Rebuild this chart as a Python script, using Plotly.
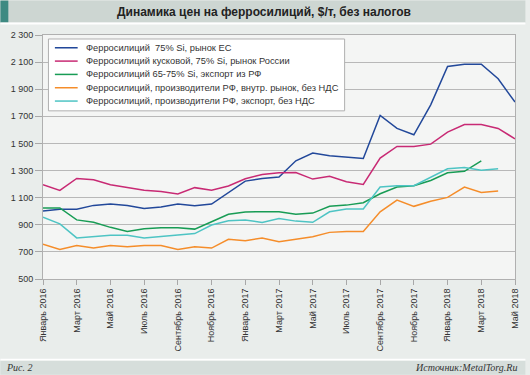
import plotly.graph_objects as go

month_names = ["Январь", "Февраль", "Март", "Апрель", "Май", "Июнь",
               "Июль", "Август", "Сентябрь", "Октябрь", "Ноябрь", "Декабрь"]
months = [f"{month_names[i % 12]} {2016 + i // 12}" for i in range(29)]
tick_labels = months[::2]

series_names = [
    "Ферросилиций  75% Si, рынок ЕС",
    "Ферросилиций кусковой, 75% Si, рынок России",
    "Ферросилиций 65-75% Si, экспорт из РФ",
    "Ферросилиций, производители РФ, внутр. рынок, без НДС",
    "Ферросилиций, производители РФ, экспорт, без НДС",
]

eu_75 = [1002, 1014, 1014, 1043, 1053, 1043, 1021, 1031, 1053, 1041, 1053, 1135, 1222, 1242,
         1252, 1372, 1429, 1409, 1399, 1389, 1706, 1611, 1564, 1785, 2068, 2085, 2085, 1977, 1805]
ru_lump_75 = [1196, 1154, 1242, 1232, 1196, 1174, 1154, 1145, 1128, 1174, 1154, 1186, 1239, 1271,
              1283, 1286, 1237, 1257, 1217, 1198, 1392, 1478, 1478, 1495, 1584, 1640, 1640, 1611, 1534]
export_65_75 = [1024, 1024, 936, 919, 881, 851, 871, 878, 878, 868, 922, 978, 995, 995,
                996, 977, 986, 1036, 1045, 1063, 1129, 1178, 1188, 1227, 1284, 1294, 1372, None, None]
prod_domestic = [757, 718, 747, 728, 747, 738, 747, 747, 718, 738, 728, 793, 783, 803,
                 775, 792, 812, 844, 851, 851, 996, 1082, 1036, 1073, 1102, 1178, 1139, 1149, None]
prod_export = [956, 907, 803, 815, 822, 822, 803, 813, 825, 835, 898, 929, 936, 917,
               947, 927, 918, 996, 1016, 1016, 1178, 1188, 1188, 1252, 1313, 1323, 1303, 1313, None]

series_values = [eu_75, ru_lump_75, export_65_75, prod_domestic, prod_export]
colors = ["#22489a", "#c82a74", "#189c55", "#f58d2a", "#4ec4c4"]

fig = go.Figure()
for name, vals, col in zip(series_names, series_values, colors):
    fig.add_trace(go.Scatter(x=months, y=vals, name=name, mode="lines",
                             line=dict(color=col, width=1.5), showlegend=False))

# pixel helpers for decorations (plot area: x 43..519.5, y 34.5..279)
L, R, T, B = 43, 519.5, 34.5, 279
def px(x):
    return (x - L) / (R - L)
def py(y):
    return (B - y) / (B - T)

shapes = [
    dict(type="rect", xref="paper", yref="paper", x0=px(0), x1=px(530), y0=py(22), y1=py(0),
         fillcolor="#cdd6d2", line=dict(width=0), layer="below"),
    dict(type="rect", xref="paper", yref="paper", x0=px(0), x1=px(8), y0=py(22), y1=py(0),
         fillcolor="#3e8a82", line=dict(width=0), layer="below"),
    dict(type="rect", xref="paper", yref="paper", x0=px(0), x1=px(530), y0=py(24), y1=py(22),
         fillcolor="#ffffff", line=dict(width=0), layer="below"),
    dict(type="rect", xref="paper", yref="paper", x0=px(0), x1=px(530), y0=py(361), y1=py(359),
         fillcolor="#ffffff", line=dict(width=0), layer="below"),
    dict(type="rect", xref="paper", yref="paper", x0=px(0), x1=px(530), y0=py(375), y1=py(361),
         fillcolor="#d6dedb", line=dict(width=0), layer="below"),
    # legend box
    dict(type="rect", xref="paper", yref="paper", x0=px(48.5), x1=px(347.5), y0=py(110.5), y1=py(38.5),
         fillcolor="#ffffff", line=dict(color="#b0b0b0", width=1), layer="above"),
]

annotations = [
    dict(text="<b>Динамика цен на ферросилиций, $/т, без налогов</b>", xref="paper", yref="paper",
         x=px(266), y=py(11.5), xanchor="center", yanchor="middle", showarrow=False,
         font=dict(family="Liberation Sans, Arial", size=12, color="#222222")),
    dict(text="<i>Рис. 2</i>", xref="paper", yref="paper", x=px(4), y=py(367.5),
         xanchor="left", yanchor="middle", showarrow=False,
         font=dict(family="Liberation Serif, Times New Roman", size=10, color="#333333")),
    dict(text="<i>Источник:MetalTorg.Ru</i>", xref="paper", yref="paper", x=px(524), y=py(367.5),
         xanchor="right", yanchor="middle", showarrow=False,
         font=dict(family="Liberation Serif, Times New Roman", size=10, color="#333333")),
]

# compact legend (rows 13.35 px apart)
for i, (name, col) in enumerate(zip(series_names, colors)):
    yc = 47.3 + i * 13.35
    shapes.append(dict(type="line", xref="paper", yref="paper", x0=px(55), x1=px(78),
                       y0=py(yc), y1=py(yc), line=dict(color=col, width=1.5), layer="above"))
    annotations.append(dict(text=name.replace("  ", "\u00a0 "), xref="paper", yref="paper",
                            x=px(84), y=py(yc), xanchor="left", yanchor="middle", showarrow=False,
                            font=dict(family="Liberation Sans, Arial", size=9.3, color="#333333")))

fig.update_layout(
    width=530, height=375,
    margin=dict(l=L, r=530 - R, t=T, b=375 - B, pad=0),
    paper_bgcolor="#e9edeb",
    plot_bgcolor="#f4f5f4",
    separators=". ",
    font=dict(family="Liberation Sans, Arial", size=9, color="#333333"),
    shapes=shapes,
    annotations=annotations,
    showlegend=False,
    xaxis=dict(type="category", range=[0, 28], tickmode="array",
               tickvals=tick_labels, ticktext=tick_labels, tickangle=-90,
               ticks="outside", ticklen=5, tickcolor="#a8a8a8",
               showgrid=False, showline=True, linecolor="#b0b0b0", mirror=True,
               tickfont=dict(size=9, color="#333333"), fixedrange=True),
    yaxis=dict(range=[500, 2300], dtick=200, tick0=500, tickformat=",d",
               ticks="outside", ticklen=7, tickcolor="#a8a8a8",
               showgrid=True, gridcolor="#b8b8b8", gridwidth=1,
               showline=True, linecolor="#b0b0b0", mirror=True, zeroline=False,
               tickfont=dict(size=9, color="#333333"), fixedrange=True),
)

fig.write_html("out.html", config={"displayModeBar": False},
               post_script="document.body.style.margin='0';document.body.style.overflow='hidden';")
